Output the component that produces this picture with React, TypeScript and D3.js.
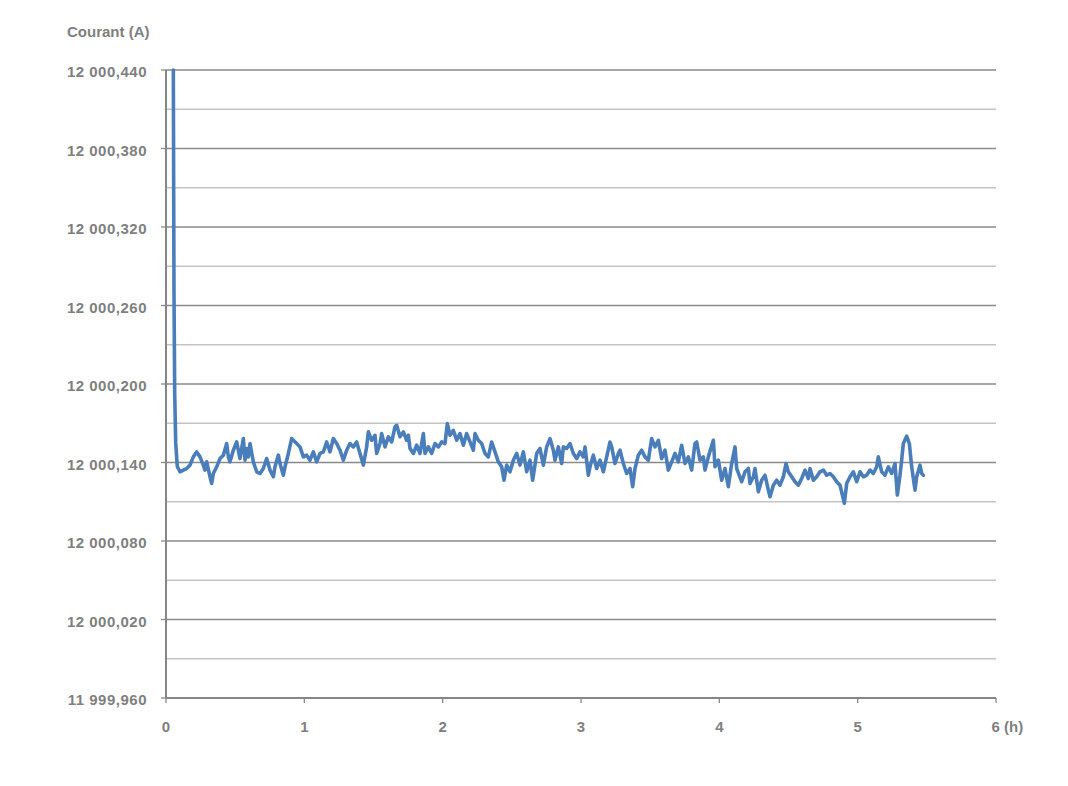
import React from 'react';
import * as d3 from 'd3';

const hours = [0.053,0.0578,0.0629,0.0701,0.0817,0.0891,0.1012,0.1253,0.1494,0.1735,0.1976,0.2217,0.2458,0.2699,0.2819,0.294,0.3181,0.3301,0.3422,0.3663,0.3904,0.4145,0.4386,0.4506,0.4627,0.4868,0.5109,0.535,0.559,0.5711,0.5832,0.5952,0.6073,0.6313,0.6555,0.6795,0.7036,0.7277,0.7518,0.7759,0.788,0.812,0.8241,0.8482,0.8603,0.8843,0.9085,0.9205,0.9446,0.9687,0.9928,1.0169,1.041,1.0651,1.0892,1.1133,1.1374,1.1615,1.1856,1.2096,1.2338,1.2578,1.2819,1.306,1.3301,1.3542,1.3783,1.4024,1.4265,1.4506,1.4627,1.4868,1.5109,1.5229,1.547,1.5591,1.5832,1.6072,1.6314,1.6554,1.6675,1.6916,1.7157,1.7398,1.7518,1.7639,1.788,1.8121,1.8362,1.8603,1.8723,1.8964,1.9205,1.9446,1.9687,1.9928,2.0169,2.0338,2.0531,2.0771,2.1013,2.1253,2.1494,2.1735,2.1976,2.2217,2.2338,2.2579,2.282,2.3061,2.3301,2.3542,2.3784,2.4024,2.4266,2.4434,2.4627,2.4868,2.5109,2.535,2.5591,2.5832,2.6073,2.6314,2.6506,2.6796,2.7037,2.7278,2.7519,2.7759,2.8,2.8121,2.8362,2.8603,2.8723,2.8964,2.9205,2.9446,2.9687,2.9928,3.0169,3.029,3.0531,3.0651,3.0892,3.1133,3.1374,3.1615,3.1856,3.2097,3.2218,3.2458,3.2699,3.282,3.3061,3.3302,3.3543,3.3736,3.3904,3.4145,3.4386,3.4627,3.4868,3.5109,3.535,3.5591,3.5832,3.6073,3.6314,3.6555,3.6796,3.7036,3.7278,3.7518,3.776,3.8,3.8241,3.8362,3.8603,3.8844,3.8964,3.9205,3.9567,3.9687,3.9928,4.0169,4.041,4.0651,4.0892,4.1133,4.1254,4.1615,4.1856,4.2097,4.2218,4.2459,4.2579,4.282,4.3061,4.3302,4.3543,4.3663,4.3904,4.4145,4.4386,4.4627,4.482,4.4988,4.523,4.547,4.5711,4.5952,4.6193,4.6434,4.6555,4.6796,4.7037,4.7278,4.7519,4.776,4.8001,4.8241,4.8482,4.8723,4.9037,4.9206,4.9447,4.9688,4.9929,5.017,5.041,5.0651,5.0892,5.1133,5.1374,5.1494,5.1736,5.1976,5.2217,5.2459,5.2699,5.2868,5.3061,5.3181,5.3302,5.3543,5.3736,5.3905,5.4145,5.4266,5.4507,5.4628,5.4748];

const current = [12000.44,12000.27,12000.193,12000.155,12000.137,12000.1354,12000.1329,12000.1342,12000.1354,12000.138,12000.1443,12000.1481,12000.1443,12000.138,12000.1342,12000.1405,12000.1291,12000.124,12000.1316,12000.1367,12000.143,12000.1456,12000.1545,12000.1443,12000.1405,12000.1494,12000.1557,12000.143,12000.1583,12000.1418,12000.1507,12000.1443,12000.1545,12000.1405,12000.1329,12000.1316,12000.1354,12000.143,12000.1342,12000.1291,12000.1367,12000.1456,12000.1392,12000.1303,12000.1367,12000.1469,12000.1583,12000.157,12000.1545,12000.1519,12000.1443,12000.1456,12000.1418,12000.1481,12000.1405,12000.1469,12000.1481,12000.1557,12000.1481,12000.1583,12000.1545,12000.1494,12000.1418,12000.1494,12000.1545,12000.1519,12000.1557,12000.1469,12000.138,12000.1519,12000.1634,12000.157,12000.1608,12000.1469,12000.1545,12000.1621,12000.1519,12000.1596,12000.1557,12000.1672,12000.1684,12000.1596,12000.1634,12000.157,12000.1608,12000.1507,12000.1469,12000.1532,12000.1469,12000.1621,12000.1469,12000.1519,12000.1469,12000.1545,12000.1519,12000.1557,12000.1545,12000.1697,12000.1608,12000.1646,12000.157,12000.1621,12000.1532,12000.1621,12000.1557,12000.1494,12000.1621,12000.157,12000.1545,12000.1469,12000.1443,12000.1557,12000.1481,12000.1405,12000.1367,12000.1265,12000.138,12000.1329,12000.1418,12000.1469,12000.138,12000.1481,12000.1329,12000.1418,12000.1265,12000.1469,12000.1507,12000.138,12000.1519,12000.1583,12000.1494,12000.1418,12000.1519,12000.1392,12000.1519,12000.1507,12000.1545,12000.1469,12000.143,12000.1481,12000.1443,12000.1519,12000.1303,12000.1367,12000.1456,12000.1354,12000.1418,12000.1329,12000.1443,12000.1557,12000.1519,12000.1392,12000.1469,12000.1494,12000.1392,12000.1316,12000.1354,12000.1215,12000.1354,12000.1456,12000.1494,12000.1443,12000.1418,12000.1583,12000.1519,12000.157,12000.143,12000.1494,12000.1342,12000.1405,12000.1469,12000.1405,12000.1532,12000.1392,12000.1443,12000.1342,12000.1545,12000.1557,12000.1418,12000.1443,12000.1342,12000.1443,12000.157,12000.1367,12000.1418,12000.1265,12000.1354,12000.1215,12000.1392,12000.1519,12000.1354,12000.1253,12000.1329,12000.1354,12000.124,12000.1291,12000.1354,12000.1176,12000.1265,12000.1303,12000.1189,12000.1138,12000.1227,12000.1265,12000.1227,12000.1291,12000.1392,12000.1329,12000.1291,12000.1253,12000.1227,12000.1278,12000.1342,12000.1278,12000.1354,12000.1265,12000.1291,12000.1329,12000.1342,12000.1303,12000.1316,12000.1291,12000.1253,12000.1227,12000.1088,12000.124,12000.1291,12000.1329,12000.1253,12000.1329,12000.1291,12000.1303,12000.1342,12000.1316,12000.1367,12000.1443,12000.1329,12000.1303,12000.1367,12000.1316,12000.1392,12000.1151,12000.1303,12000.1418,12000.1545,12000.1601,12000.1545,12000.1367,12000.1189,12000.1291,12000.138,12000.1316,12000.1303];

const majorTicks = [11999.96, 12000.02, 12000.08, 12000.14, 12000.2, 12000.26, 12000.32, 12000.38, 12000.44];
const majorLabels = ['11 999,960', '12 000,020', '12 000,080', '12 000,140', '12 000,200', '12 000,260', '12 000,320', '12 000,380', '12 000,440'];
const minorTicks = [11999.99, 12000.05, 12000.11, 12000.17, 12000.23, 12000.29, 12000.35, 12000.41];
const xTicks = [0, 1, 2, 3, 4, 5, 6];
const xLabels = ['0', '1', '2', '3', '4', '5', '6'];
const yTitle = 'Courant (A)';
const xUnit = ' (h)';

const W = 1068, H = 786;
const left = 166, right = 996, top = 70, bottom = 698;
const textColor = '#7f7f7f';
const font = 'Arial, "Liberation Sans", sans-serif';

export default function App() {
  const x = d3.scaleLinear().domain([0, 6]).range([left, right]);
  const y = d3.scaleLinear().domain([11999.96, 12000.44]).range([bottom, top]);
  const pts: [number, number][] = hours.map((h, i) => [h, current[i]]);
  const line = d3.line<[number, number]>().x(d => x(d[0])).y(d => y(d[1])).curve(d3.curveLinear);

  return (
    <svg width={W} height={H} style={{ position: 'absolute', left: 0, top: 0, background: '#fff' }} fontFamily={font}>
      <rect x={0} y={0} width={W} height={H} fill="#fff" />
      {minorTicks.map(v => (
        <line key={'mn' + v} x1={left} x2={right} y1={y(v)} y2={y(v)} stroke="#c4c4c4" strokeWidth={1.3} />
      ))}
      {majorTicks.map(v => (
        <line key={'mj' + v} x1={left} x2={right} y1={y(v)} y2={y(v)} stroke="#8a8a8a" strokeWidth={1.3} />
      ))}
      {majorTicks.map(v => (
        <line key={'yt' + v} x1={left - 5} x2={left} y1={y(v)} y2={y(v)} stroke="#8a8a8a" strokeWidth={1.3} />
      ))}
      {xTicks.map(v => (
        <line key={'xt' + v} x1={x(v)} x2={x(v)} y1={bottom} y2={bottom + 5} stroke="#8a8a8a" strokeWidth={1.3} />
      ))}
      <line x1={left} x2={left} y1={top} y2={bottom} stroke="#868686" strokeWidth={2} />
      <line x1={left} x2={right} y1={bottom} y2={bottom} stroke="#868686" strokeWidth={2} />
      <path d={line(pts) || ''} fill="none" stroke="#4a7ebb" strokeWidth={3.6} strokeLinejoin="round" strokeLinecap="round" />
      {majorTicks.map((v, i) => (
        <text key={'yl' + v} x={left - 19} y={y(v) + 7} textAnchor="end" fontSize={15} fontWeight="bold" fill={textColor} letterSpacing={0.5}>
          {majorLabels[i]}
        </text>
      ))}
      {xTicks.map((v, i) => (
        i === xTicks.length - 1 ? (
          <text key={'xl' + v} x={x(v) - 4.5} y={bottom + 34} textAnchor="start" fontSize={15} fontWeight="bold" fill={textColor}>
            {xLabels[i] + xUnit}
          </text>
        ) : (
          <text key={'xl' + v} x={x(v)} y={bottom + 34} textAnchor="middle" fontSize={15} fontWeight="bold" fill={textColor}>
            {xLabels[i]}
          </text>
        )
      ))}
      <text x={67} y={37} fontSize={15} fontWeight="bold" fill={textColor}>{yTitle}</text>
    </svg>
  );
}
